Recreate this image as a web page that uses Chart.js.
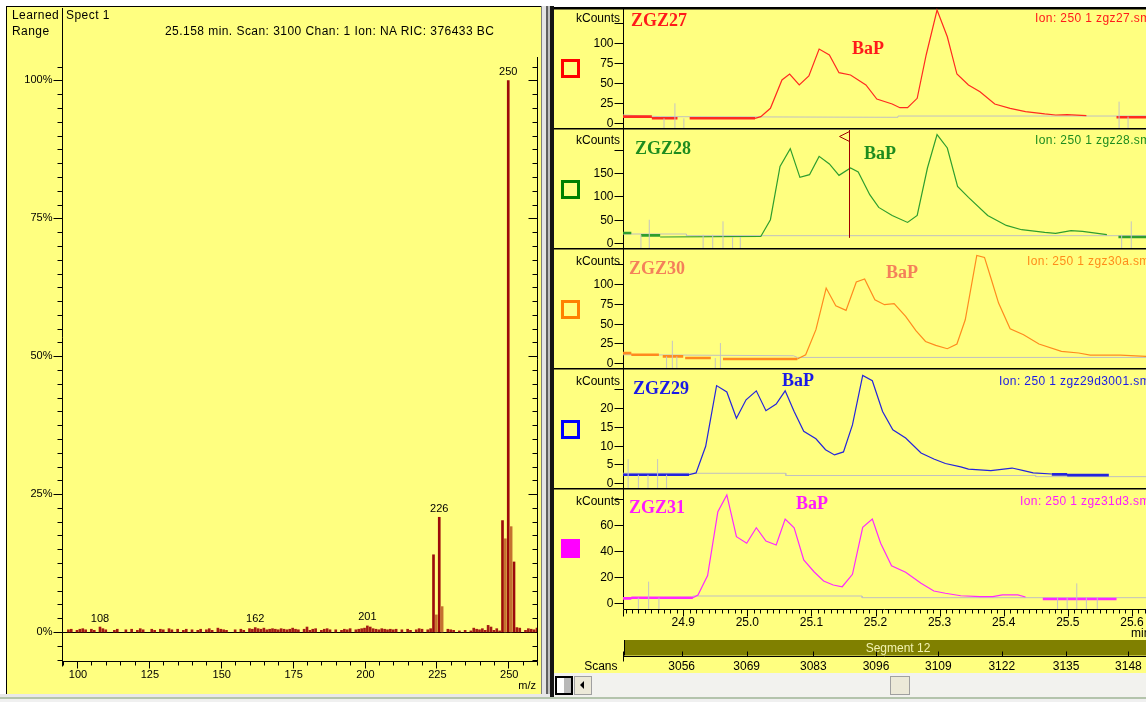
<!DOCTYPE html>
<html>
<head>
<meta charset="utf-8">
<script src="https://cdn.jsdelivr.net/npm/chart.js@4.4.1/dist/chart.umd.min.js"></script>
<style>
  html, body { margin: 0; padding: 0; background: #fff; overflow: hidden; }
  #page { position: relative; width: 1146px; height: 702px; overflow: hidden; font-family: "Liberation Sans", Arial, sans-serif; }
  .box { position: absolute; }
  canvas { position: absolute; }
  .t { position: absolute; white-space: nowrap; line-height: 14px; font-size: 12px; color: #000; }
  .hdr { letter-spacing: 0.45px; }
  .nm { position: absolute; white-space: nowrap; line-height: 20px; font: bold 18px "Liberation Serif", "Times New Roman", serif; }
  .ion { position: absolute; white-space: nowrap; line-height: 14px; font-size: 12px; letter-spacing: 0.4px; }
  .key { position: absolute; left: 561px; width: 19px; height: 19px; box-sizing: border-box; border: 3.5px solid; }
</style>
</head>
<body>
<div id="page">
  <!-- left (spectrum) window -->
  <div class="box" style="left:6px;top:6px;width:535px;height:688px;background:#FFFF80;border-left:1px solid #000;border-top:1px solid #000;"></div>
  <!-- splitter between the two windows -->
  <div class="box" style="left:541px;top:6px;width:1px;height:690px;background:#808080;"></div>
  <div class="box" style="left:542px;top:6px;width:4px;height:690px;background:#E4E4E4;"></div>
  <div class="box" style="left:546px;top:6px;width:2px;height:690px;background:#606060;"></div>
  <div class="box" style="left:548px;top:6px;width:2px;height:690px;background:#C0C0C0;"></div>
  <div class="box" style="left:550px;top:6px;width:4px;height:692px;background:#141414;"></div>
  <!-- right (chromatogram) window -->
  <div class="box" style="left:554px;top:7px;width:592px;height:665px;background:#FFFF80;border-top:1px solid #000;"></div>
  <!-- bottom strip -->
  <div class="box" style="left:0;top:694px;width:550px;height:3px;background:#E8E8E8;"></div>
  <div class="box" style="left:0;top:697px;width:1146px;height:2px;background:#B4C4AC;"></div>
  <div class="box" style="left:0;top:699px;width:1146px;height:3px;background:#F0F0F0;"></div>
  <!-- scroll bar -->
  <div class="box" style="left:554px;top:673px;width:592px;height:24px;background:#F2F2EE;"></div>
  <div class="box" style="left:555px;top:676px;width:18px;height:19px;box-sizing:border-box;border:2px solid #000;background:linear-gradient(90deg,#fff 0 50%,#B8B8B8 50% 100%);"></div>
  <div class="box" style="left:574px;top:676px;width:18px;height:19px;box-sizing:border-box;border:1px solid #A0A0A0;background:#ECE9D8;"></div>
  <div class="box" style="left:580px;top:681px;width:0;height:0;border-top:4px solid transparent;border-bottom:4px solid transparent;border-right:4px solid #000;"></div>
  <div class="box" style="left:890px;top:676px;width:20px;height:19px;box-sizing:border-box;border:1px solid #A0A0A0;background:#ECE9D8;"></div>

  <canvas id="spec" width="535" height="686" style="left:7px;top:8px;"></canvas>
  <canvas id="c27" width="592" height="120" style="left:554px;top:8px;"></canvas>
  <canvas id="c28" width="592" height="120" style="left:554px;top:128px;"></canvas>
  <canvas id="c30" width="592" height="120" style="left:554px;top:248px;"></canvas>
  <canvas id="c29" width="592" height="120" style="left:554px;top:368px;"></canvas>
  <canvas id="c31" width="592" height="184" style="left:554px;top:488px;"></canvas>

  <!-- spectrum header -->
  <div class="t hdr" style="left:12px;top:8px;">Learned</div>
  <div class="t hdr" style="left:12px;top:24px;">Range</div>
  <div class="t hdr" style="left:66px;top:8px;">Spect 1</div>
  <div class="t hdr" style="left:165px;top:24px;">25.158 min. Scan: 3100 Chan: 1 Ion: NA RIC: 376433 BC</div>

  <!-- chromatogram headers -->
  <div class="t" style="right:526px;top:11px;">kCounts</div>
  <div class="t" style="right:526px;top:133px;">kCounts</div>
  <div class="t" style="right:526px;top:254px;">kCounts</div>
  <div class="t" style="right:526px;top:374px;">kCounts</div>
  <div class="t" style="right:526px;top:494px;">kCounts</div>

  <div class="key" style="top:59px;border-color:#FF0000;"></div>
  <div class="key" style="top:180px;border-color:#008000;"></div>
  <div class="key" style="top:300px;border-color:#FF8000;"></div>
  <div class="key" style="top:420px;border-color:#0000FF;"></div>
  <div class="key" style="top:539px;border-color:#FF00FF;background:#FF00FF;"></div>

  <div class="nm" style="left:631px;top:10px;color:#FF1A1A;">ZGZ27</div>
  <div class="nm" style="left:852px;top:38px;color:#FF1A1A;">BaP</div>
  <div class="ion" style="left:1035px;top:11px;color:#FF1A1A;">Ion: 250 1 zgz27.sms</div>

  <div class="nm" style="left:635px;top:138px;color:#1E8C1E;">ZGZ28</div>
  <div class="nm" style="left:864px;top:143px;color:#1E8C1E;">BaP</div>
  <div class="ion" style="left:1035px;top:133px;color:#1E8C1E;">Ion: 250 1 zgz28.sms</div>

  <div class="nm" style="left:629px;top:258px;color:#F4805A;">ZGZ30</div>
  <div class="nm" style="left:886px;top:262px;color:#F4805A;">BaP</div>
  <div class="ion" style="left:1027px;top:254px;color:#FF8C1A;">Ion: 250 1 zgz30a.sms</div>

  <div class="nm" style="left:633px;top:378px;color:#1A1AE6;">ZGZ29</div>
  <div class="nm" style="left:782px;top:370px;color:#1A1AE6;">BaP</div>
  <div class="ion" style="left:999px;top:374px;color:#1A1AE6;">Ion: 250 1 zgz29d3001.sms</div>

  <div class="nm" style="left:629px;top:497px;color:#FF1AFF;">ZGZ31</div>
  <div class="nm" style="left:796px;top:493px;color:#FF1AFF;">BaP</div>
  <div class="ion" style="left:1020px;top:494px;color:#FF1AFF;">Ion: 250 1 zgz31d3.sms</div>
</div>

<script>
const FONT = '"Liberation Sans", Arial, sans-serif';

// ---------- mass spectrum at 25.158 min (m/z, % of base peak) ----------
const majorPeaks = [[224, 14.0], [226, 20.8], [248, 20.2], [250, 100], [252, 12.7]];
const sidePeaks = [[225, 3.1], [227, 4.6], [249, 16.9], [251, 19.1]];
const minorPeaks = [
  [97, 0.4], [98, 0.5], [100, 0.3], [101, 0.5], [102, 0.6], [103, 0.4], [105, 0.5], [106, 0.3],
  [108, 0.9], [109, 0.6], [110, 0.4], [113, 0.3], [114, 0.5], [117, 0.4], [119, 0.5], [121, 0.3],
  [122, 0.6], [123, 0.4], [126, 0.5], [127, 0.3], [129, 0.5], [130, 0.4], [132, 0.6], [133, 0.4],
  [135, 0.5], [137, 0.3], [138, 0.5], [140, 0.4], [142, 0.3], [143, 0.5], [145, 0.4], [146, 0.6],
  [147, 0.3], [149, 0.7], [150, 0.5], [151, 0.4], [152, 0.3], [155, 0.4], [157, 0.5], [158, 0.3],
  [160, 0.6], [161, 0.5], [162, 0.8], [163, 0.6], [164, 0.5], [165, 0.7], [166, 0.4], [167, 0.5],
  [168, 0.6], [169, 0.5], [170, 0.4], [171, 0.6], [172, 0.5], [173, 0.4], [174, 0.5], [175, 0.7],
  [176, 0.5], [177, 0.4], [179, 0.5], [180, 0.9], [181, 0.3], [182, 0.5], [183, 0.6], [185, 0.3],
  [186, 0.5], [187, 0.6], [188, 0.4], [190, 0.4], [192, 0.3], [193, 0.5], [194, 0.4], [195, 0.6],
  [197, 0.4], [198, 0.5], [199, 0.6], [200, 0.7], [201, 1.1], [202, 0.9], [203, 0.6], [204, 0.5],
  [205, 0.4], [206, 0.6], [207, 0.5], [208, 0.4], [209, 0.5], [210, 0.4], [211, 0.5], [213, 0.4],
  [215, 0.5], [216, 0.3], [218, 0.4], [219, 0.6], [220, 0.5], [222, 0.4], [223, 0.6], [229, 0.5],
  [230, 0.4], [231, 0.3], [233, 0.2], [235, 0.3], [237, 0.2], [238, 0.7], [239, 0.5], [240, 0.4],
  [241, 0.6], [242, 0.3], [243, 1.2], [244, 0.9], [245, 0.3], [246, 0.6], [247, 0.2], [253, 0.8],
  [254, 0.7], [256, 0.3], [257, 0.6], [258, 0.5], [259, 0.4], [260, 0.7]
];
const labelledMz = [108, 162, 201, 226, 250];
const mzTicks = [100, 125, 150, 175, 200, 225, 250];
const pctTicks = [0, 25, 50, 75, 100];

// ---------- ion 250 chromatograms (time in min, kCounts) ----------
const z27Trace = [[25.012, 5.5], [25.021, 7.6], [25.036, 18.1], [25.054, 53.8], [25.066, 61.3], [25.081, 47.5],
  [25.096, 58.8], [25.112, 92.8], [25.128, 85.3], [25.143, 63.0], [25.161, 60.1], [25.185, 47.5], [25.202, 29.8],
  [25.226, 23.6], [25.238, 18.9], [25.250, 18.9], [25.265, 30.7], [25.279, 85.3], [25.296, 141.9], [25.312, 108.3],
  [25.327, 61.3], [25.345, 47.5], [25.363, 39.0], [25.386, 23.6], [25.410, 18.1], [25.434, 13.9], [25.464, 11.0],
  [25.481, 9.7], [25.499, 10.1], [25.529, 8.8]];
const z27Flat = [[24.806, 24.851, 7.6], [24.851, 24.891, 5.5], [24.910, 25.012, 5.5], [25.576, 25.622, 6.8]];
const z27Base = [[24.806, 9.7], [24.864, 7.6], [25.235, 6.8], [25.235, 8.4], [25.622, 8.4]];
const z27Marks = [[24.870, 5.5], [24.887, 24.4], [24.901, 5.5], [25.580, 26.5], [25.594, 7.6]];
const z27Ticks = [0, 25, 50, 75, 100, 125];

const z28Trace = [[24.864, 12.9], [25.021, 14.1], [25.036, 49.9], [25.051, 164.1], [25.067, 202.1], [25.082, 140.6],
  [25.097, 146.4], [25.112, 185.6], [25.128, 169.3], [25.143, 144.9], [25.161, 160.7], [25.173, 152.1], [25.191, 103.5],
  [25.205, 76.3], [25.226, 59.1], [25.250, 44.1], [25.265, 59.1], [25.281, 160.7], [25.296, 232.1], [25.312, 203.6],
  [25.328, 121.3], [25.345, 97.7], [25.375, 59.1], [25.404, 37.7], [25.428, 28.5], [25.464, 22.7], [25.481, 20.6],
  [25.505, 26.4], [25.523, 24.9], [25.561, 17.8]];
const z28Flat = [[24.806, 24.819, 21.4], [24.834, 24.864, 16.3], [25.579, 25.622, 12.9]];
const z28Base = [[24.806, 19.3], [24.905, 19.3], [24.905, 15.7], [25.622, 15.7]];
const z28Marks = [[24.834, 17.8], [24.847, 49.9], [24.931, 17.8], [24.946, 17.8], [24.962, 46.4], [24.977, 12.9],
  [24.989, 12.9], [25.584, 17.8], [25.599, 46.4]];
const z28Ticks = [0, 50, 100, 150, 200];

const z30Trace = [[25.078, 5.1], [25.091, 10.5], [25.107, 42.2], [25.123, 94.9], [25.138, 72.5], [25.154, 66.6],
  [25.170, 102.5], [25.183, 106.3], [25.199, 80.1], [25.214, 73.8], [25.229, 75.1], [25.247, 59.0], [25.263, 40.9],
  [25.278, 27.3], [25.294, 22.3], [25.312, 18.1], [25.327, 24.1], [25.340, 54.8], [25.358, 136.2], [25.370, 133.7],
  [25.380, 107.6], [25.392, 75.9], [25.410, 43.4], [25.431, 35.8], [25.455, 24.1], [25.490, 14.7], [25.517, 12.7],
  [25.535, 10.1], [25.582, 10.1], [25.622, 8.4]];
const z30Flat = [[24.806, 24.819, 12.5], [24.819, 24.862, 10.5], [24.868, 24.900, 8.4], [24.903, 24.943, 6.3], [24.962, 25.078, 5.1]];
const z30Base = [[24.806, 10.5], [25.072, 9.2], [25.078, 7.1], [25.622, 7.1]];
const z30Marks = [[24.874, 8.4], [24.883, 28.2], [24.890, 8.4], [24.950, 6.3], [24.958, 25.3]];
const z30Ticks = [0, 25, 50, 75, 100, 125];

const z29Trace = [[24.909, 2.2], [24.920, 2.7], [24.935, 9.8], [24.952, 26.0], [24.968, 24.3], [24.983, 17.3],
  [24.998, 22.2], [25.014, 24.6], [25.029, 19.3], [25.045, 21.1], [25.059, 24.6], [25.073, 19.1], [25.088, 13.8],
  [25.107, 11.8], [25.122, 8.9], [25.136, 7.5], [25.150, 8.3], [25.164, 15.5], [25.180, 28.7], [25.195, 27.3],
  [25.211, 19.1], [25.227, 14.2], [25.247, 12.0], [25.271, 8.0], [25.291, 6.4], [25.309, 5.2], [25.333, 4.3],
  [25.345, 3.7], [25.380, 3.3], [25.413, 4.0], [25.431, 3.3], [25.446, 2.7], [25.475, 2.4]];
const z29Flat = [[24.806, 24.909, 2.2], [25.475, 25.499, 2.3], [25.499, 25.564, 2.1]];
const z29Base = [[24.806, 2.6], [25.060, 2.6], [25.060, 2.0], [25.450, 2.0], [25.450, 1.7], [25.622, 1.7]];
const z29Marks = [[24.814, 6.4], [24.830, 2.2], [24.845, 2.2], [24.860, 6.4], [24.874, 2.2]];
const z29Ticks = [0, 5, 10, 15, 20, 25];

const z31Trace = [[24.915, 4.3], [24.923, 6.4], [24.938, 21.2], [24.954, 70.2], [24.968, 83.0], [24.983, 51.0],
  [24.999, 46.0], [25.014, 57.9], [25.029, 47.7], [25.045, 44.7], [25.059, 64.6], [25.073, 57.9], [25.088, 33.2],
  [25.104, 24.2], [25.119, 17.1], [25.134, 14.0], [25.148, 12.7], [25.164, 22.2], [25.180, 58.2], [25.195, 64.6],
  [25.208, 46.0], [25.225, 28.8], [25.247, 23.8], [25.271, 15.3], [25.291, 9.4], [25.309, 7.7], [25.333, 5.8],
  [25.363, 5.1], [25.383, 5.1], [25.398, 6.4], [25.422, 6.4], [25.434, 4.8]];
const z31Flat = [[24.806, 24.819, 3.8], [24.819, 24.915, 4.3], [25.461, 25.576, 3.3]];
const z31Base = [[24.806, 4.3], [24.915, 4.6], [24.915, 5.6], [25.179, 5.6], [25.179, 4.3], [25.622, 4.3]];
const z31Marks = [[24.830, 4.3], [24.846, 16.6], [24.862, 4.3], [25.484, 4.3], [25.499, 4.3], [25.514, 15.3],
  [25.529, 4.3], [25.546, 4.3]];
const z31Ticks = [0, 20, 40, 60, 80];

// time axis labels and the scan numbers that line up with the time axis
const timeTicks = [24.9, 25.0, 25.1, 25.2, 25.3, 25.4, 25.5, 25.6];
const scanTicks = [3056, 3069, 3083, 3096, 3109, 3122, 3135, 3148];
const scanTimes = [24.8975, 24.9989, 25.1030, 25.2008, 25.2980, 25.3970, 25.4973, 25.5946];
const cursorTime = 25.158;

// ================= spectrum chart =================
function hline(ctx, x1, x2, y) { ctx.beginPath(); ctx.moveTo(x1, y); ctx.lineTo(x2, y); ctx.stroke(); }
function vline(ctx, x, y1, y2) { ctx.beginPath(); ctx.moveTo(x, y1); ctx.lineTo(x, y2); ctx.stroke(); }

const specAxes = {
  id: 'specAxes',
  beforeDatasetsDraw(chart) {
    const { ctx, chartArea: a, scales: { x, y } } = chart;
    ctx.save();
    ctx.strokeStyle = '#000';
    ctx.lineWidth = 1;
    const lx = a.left + 0.5, rx = a.right + 0.5, by = a.bottom + 0.5;
    vline(ctx, lx, 0, by + 5);
    vline(ctx, rx, a.top, by);
    hline(ctx, lx, rx, by);
    const y0 = Math.round(y.getPixelForValue(0)) + 0.5;
    hline(ctx, lx, rx, y0);
    // percent ticks every 2.5 %
    for (let i = -2; i <= 41; i++) {
      const v = i * 2.5;
      const py = Math.round(y.getPixelForValue(v)) + 0.5;
      const len = (i % 10 === 0) ? 9 : 5;
      hline(ctx, lx - len, lx, py);
      hline(ctx, rx - len, rx, py);
    }
    ctx.fillStyle = '#000';
    ctx.font = '11px ' + FONT;
    ctx.textAlign = 'right';
    ctx.textBaseline = 'middle';
    pctTicks.forEach(v => ctx.fillText(v + '%', lx - 10, Math.round(y.getPixelForValue(v))));
    // m/z ticks every 5
    for (let m = 95; m <= 260; m += 5) {
      const px = Math.round(x.getPixelForValue(m)) + 0.5;
      vline(ctx, px, by, by + (m % 25 === 0 ? 7 : 4));
    }
    ctx.textAlign = 'center';
    mzTicks.forEach(m => ctx.fillText(String(m), x.getPixelForValue(m) + 1, by + 13));
    ctx.textAlign = 'right';
    ctx.fillText('m/z', a.right - 1, by + 24);
    ctx.restore();
  },
  afterDatasetsDraw(chart) {
    const { ctx, scales: { x, y } } = chart;
    const all = majorPeaks.concat(sidePeaks, minorPeaks);
    ctx.save();
    ctx.fillStyle = '#000';
    ctx.font = '11px ' + FONT;
    ctx.textAlign = 'center';
    ctx.textBaseline = 'bottom';
    labelledMz.forEach(m => {
      const p = all.find(d => d[0] === m);
      ctx.fillText(String(m), x.getPixelForValue(m), y.getPixelForValue(p[1]) - 3);
    });
    ctx.restore();
  }
};

const toXY = p => ({ x: p[0], y: p[1] });
new Chart(document.getElementById('spec'), {
  type: 'bar',
  data: {
    datasets: [
      { data: minorPeaks.map(toXY), backgroundColor: '#A41A12', barThickness: 2, grouped: false },
      { data: sidePeaks.map(toXY), backgroundColor: '#C4702E', barThickness: 2, grouped: false },
      { data: majorPeaks.map(toXY), backgroundColor: '#9C0A0A', barThickness: 2, grouped: false }
    ]
  },
  options: {
    responsive: false, animation: false, events: [],
    layout: { padding: { left: 55, right: 5, top: 49, bottom: 33 } },
    plugins: { legend: { display: false }, tooltip: { enabled: false } },
    scales: {
      x: { type: 'linear', min: 94.78, max: 260, display: false, offset: false },
      y: { type: 'linear', min: -5.26, max: 104.26, display: false }
    }
  },
  plugins: [specAxes]
});

// ================= chromatogram charts =================
const traceFrame = {
  id: 'traceFrame',
  beforeDatasetsDraw(chart, args, opts) {
    const { ctx, chartArea: a, scales: { y } } = chart;
    ctx.save();
    ctx.strokeStyle = '#000';
    ctx.lineWidth = 1.5;
    hline(ctx, 0, chart.width, a.top + 0.75);
    ctx.lineWidth = 1;
    const lx = a.left + 0.5;
    vline(ctx, lx, a.top, a.bottom);
    ctx.fillStyle = '#000';
    ctx.font = '12px ' + FONT;
    ctx.textAlign = 'right';
    ctx.textBaseline = 'middle';
    opts.ticks.forEach((v, i) => {
      const py = Math.round(y.getPixelForValue(v)) + 0.5;
      hline(ctx, lx - 9, lx, py);
      if (i < opts.ticks.length - 1) ctx.fillText(String(v), lx - 10, py);
    });
    ctx.restore();
  },
  afterDatasetsDraw(chart, args, opts) {
    const { ctx, chartArea: a, scales: { x, y } } = chart;
    ctx.save();
    if (opts.cursor) {
      const px = Math.round(x.getPixelForValue(opts.cursor.t)) + 0.5;
      ctx.strokeStyle = '#A00000';
      ctx.lineWidth = 1;
      vline(ctx, px, a.top + 2, y.getPixelForValue(opts.cursor.v));
      ctx.beginPath();
      ctx.moveTo(px, a.top + 3.5);
      ctx.lineTo(px - 10, a.top + 8.5);
      ctx.lineTo(px, a.top + 13.5);
      ctx.stroke();
    }
    if (opts.timeAxis) {
      const by = a.bottom + 0.5;
      const lx = a.left + 0.5;
      ctx.strokeStyle = '#000';
      ctx.lineWidth = 1;
      hline(ctx, lx, chart.width, by);
      for (let k = 2481; k <= 2562; k++) {
        const px = Math.round(x.getPixelForValue(k / 100)) + 0.5;
        vline(ctx, px, by, by + (k % 10 === 0 ? 7 : 4));
      }
      vline(ctx, lx, by, by + 7);
      ctx.fillStyle = '#000';
      ctx.font = '12px ' + FONT;
      ctx.textAlign = 'center';
      ctx.textBaseline = 'middle';
      timeTicks.forEach(t => ctx.fillText(t.toFixed(1), x.getPixelForValue(t), by + 13));
      ctx.textAlign = 'left';
      ctx.fillText('min', chart.width - 15, by + 24);
      // acquisition segment
      const sTop = by + 30.5, sBot = by + 46;
      ctx.fillStyle = '#808000';
      ctx.fillRect(lx + 1, sTop, chart.width - lx, sBot - sTop);
      ctx.strokeStyle = '#000';
      vline(ctx, lx + 1, sTop, sBot);
      ctx.fillStyle = '#F2F2B0';
      ctx.font = '12px ' + FONT;
      ctx.textAlign = 'center';
      ctx.fillText('Segment 12', 344, (sTop + sBot) / 2 + 0.5);
      // scan axis
      const sy = by + 47;
      hline(ctx, lx, chart.width, sy);
      vline(ctx, lx, sy - 5, sy + 5);
      scanTimes.forEach(t => {
        const px = Math.round(x.getPixelForValue(t)) + 0.5;
        vline(ctx, px, sy - 5, sy);
      });
      ctx.fillStyle = '#000';
      ctx.textBaseline = 'middle';
      scanTicks.forEach((s, i) => ctx.fillText(String(s), x.getPixelForValue(scanTimes[i]), sy + 10));
      ctx.textAlign = 'right';
      ctx.fillText('Scans', lx - 6, sy + 10);
    }
    ctx.restore();
  }
};

function flatSegments(list) {
  const out = [];
  list.forEach(s => { out.push({ x: s[0], y: s[2] }, { x: s[1], y: s[2] }, { x: s[1], y: null }); });
  return out;
}
function markerSegments(list, floor) {
  const out = [];
  list.forEach(m => { out.push({ x: m[0], y: floor }, { x: m[0], y: m[1] }, { x: m[0], y: null }); });
  return out;
}

function traceChart(cfg) {
  const datasets = [
    { data: cfg.base.map(toXY), borderColor: '#C0C0C0', borderWidth: 1, order: 4 },
    { data: flatSegments(cfg.flat), borderColor: cfg.color, borderWidth: 2.6, order: 3 },
    { data: cfg.trace.map(toXY), borderColor: cfg.color, borderWidth: 1.2, order: 2 },
    { data: markerSegments(cfg.marks, cfg.min), borderColor: '#C4C4C4', borderWidth: 1, order: 1 }
  ];
  datasets.forEach(d => { d.pointRadius = 0; d.tension = 0; d.spanGaps = false; d.fill = false; });
  return new Chart(document.getElementById(cfg.id), {
    type: 'line',
    data: { datasets },
    options: {
      responsive: false, animation: false, events: [],
      layout: { padding: { left: 69, right: 0, top: 0, bottom: cfg.bottomPad || 0 } },
      plugins: {
        legend: { display: false }, tooltip: { enabled: false },
        traceFrame: { ticks: cfg.ticks, cursor: cfg.cursor || null, timeAxis: !!cfg.timeAxis }
      },
      scales: {
        x: { type: 'linear', min: 24.806, max: 25.622, display: false },
        y: { type: 'linear', min: cfg.min, max: cfg.max, display: false }
      }
    },
    plugins: [traceFrame]
  });
}

traceChart({ id: 'c27', color: '#FF2A20', min: -6.7, max: 144.5, trace: z27Trace, flat: z27Flat, base: z27Base, marks: z27Marks, ticks: z27Ticks });
traceChart({ id: 'c28', color: '#2E9E2E', min: -10.7, max: 246.4, trace: z28Trace, flat: z28Flat, base: z28Base, marks: z28Marks, ticks: z28Ticks,
  cursor: { t: cursorTime, v: 11 } });
traceChart({ id: 'c30', color: '#FF8A1E', min: -6.3, max: 145.6, trace: z30Trace, flat: z30Flat, base: z30Base, marks: z30Marks, ticks: z30Ticks });
traceChart({ id: 'c29', color: '#2424DC', min: -1.33, max: 30.7, trace: z29Trace, flat: z29Flat, base: z29Base, marks: z29Marks, ticks: z29Ticks });
traceChart({ id: 'c31', color: '#FF28FF', min: -4.37, max: 88.35, trace: z31Trace, flat: z31Flat, base: z31Base, marks: z31Marks, ticks: z31Ticks,
  bottomPad: 63, timeAxis: true });
</script>
</body>
</html>
